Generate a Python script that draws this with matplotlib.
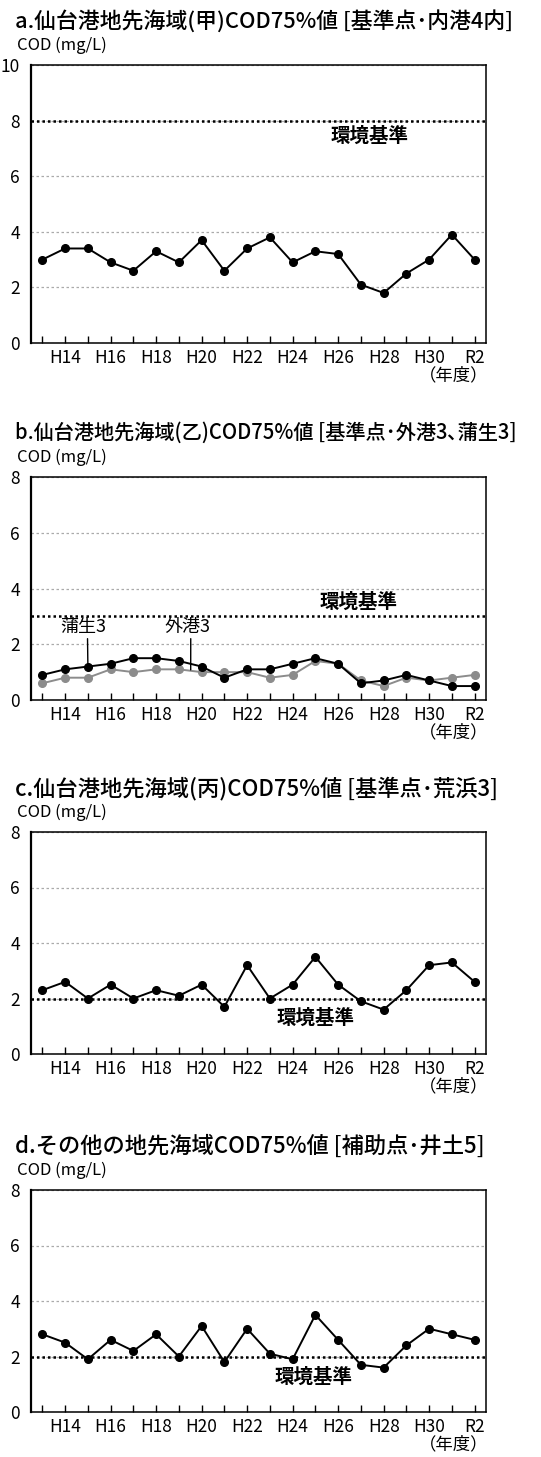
import matplotlib
matplotlib.use("Agg")
import matplotlib.pyplot as plt

plt.rcParams['font.family'] = ['Noto Sans CJK JP', 'DejaVu Sans']

# years H13 .. H31, R2
years = ['H13', 'H14', 'H15', 'H16', 'H17', 'H18', 'H19', 'H20', 'H21', 'H22',
         'H23', 'H24', 'H25', 'H26', 'H27', 'H28', 'H29', 'H30', 'H31', 'R2']
shown = ['H14', 'H16', 'H18', 'H20', 'H22', 'H24', 'H26', 'H28', 'H30', 'R2']

# a. 内港4内
naiko4 = [3.0, 3.4, 3.4, 2.9, 2.6, 3.3, 2.9, 3.7, 2.6, 3.4,
          3.8, 2.9, 3.3, 3.2, 2.1, 1.8, 2.5, 3.0, 3.9, 3.0]
# b. 蒲生3 (black), 外港3 (gray)
gamo3 = [0.9, 1.1, 1.2, 1.3, 1.5, 1.5, 1.4, 1.2, 0.8, 1.1,
         1.1, 1.3, 1.5, 1.3, 0.6, 0.7, 0.9, 0.7, 0.5, 0.5]
gaiko3 = [0.6, 0.8, 0.8, 1.1, 1.0, 1.1, 1.1, 1.0, 1.0, 1.0,
          0.8, 0.9, 1.4, 1.3, 0.7, 0.5, 0.8, 0.7, 0.8, 0.9]
# c. 荒浜3
arahama3 = [2.3, 2.6, 2.0, 2.5, 2.0, 2.3, 2.1, 2.5, 1.7, 3.2,
            2.0, 2.5, 3.5, 2.5, 1.9, 1.6, 2.3, 3.2, 3.3, 2.6]
# d. 井土5
ido5 = [2.8, 2.5, 1.9, 2.6, 2.2, 2.8, 2.0, 3.1, 1.8, 3.0,
        2.1, 1.9, 3.5, 2.6, 1.7, 1.6, 2.4, 3.0, 2.8, 2.6]

titles = ['a.仙台港地先海域(甲)COD75%値 [基準点･内港4内]',
          'b.仙台港地先海域(乙)COD75%値 [基準点･外港3､蒲生3]',
          'c.仙台港地先海域(丙)COD75%値 [基準点･荒浜3]',
          'd.その他の地先海域COD75%値 [補助点･井土5]']
title_widths = [498, 503, 503, 500]
ymaxs = [10, 8, 8, 8]
standards = [8, 3, 2, 2]
std_label_pos = [(14.4, 7.45), (13.9, 3.5), (12.0, 1.3), (11.9, 1.25)]

W, H = 541, 1457
fig = plt.figure(figsize=(W / 100, H / 100), dpi=100)

# axes boxes in pixels: (top, bottom)
boxes = [(65, 343), (477, 700), (832, 1054), (1190, 1412)]
left, right = 31, 486

x = list(range(len(years)))
series = [[(naiko4, 'black')],
          [(gaiko3, '#8c8c8c'), (gamo3, 'black')],
          [(arahama3, 'black')],
          [(ido5, 'black')]]

title_texts = []
for i in range(4):
    top, bot = boxes[i]
    ax = fig.add_axes([left / W, 1 - bot / H, (right - left) / W, (bot - top) / H])
    ax.set_xlim(-0.5, 19.5)
    ax.set_ylim(0, ymaxs[i])
    ax.set_yticks(range(0, ymaxs[i] + 1, 2))
    ax.set_xticks(x)
    ax.set_xticklabels([y if y in shown else '' for y in years])
    ax.tick_params(axis='x', direction='in', length=5, width=1, labelsize=12.5, pad=4)
    ax.tick_params(axis='y', length=0, labelsize=12.5, pad=8)
    for s in ax.spines.values():
        s.set_linewidth(1.1)
    ax.spines['left'].set_linewidth(1.6)
    ax.grid(axis='y', color='#aaaaaa', linestyle=(0, (2, 2)), linewidth=0.9)
    ax.axhline(standards[i], color='black', linestyle=(0, (1, 1.2)), linewidth=1.8, zorder=2)
    for vals, col in series[i]:
        ax.plot(x, vals, color=col, marker='o', markersize=5.5, linewidth=1.4, zorder=3)
    sx, sy = std_label_pos[i]
    ax.text(sx, sy, '環境基準', ha='center', va='center', fontsize=14, fontweight='bold')
    ax.annotate('（年度）', xy=(1.0, 0), xycoords='axes fraction', xytext=(2, -17),
                textcoords='offset points', ha='right', va='top', fontsize=12.5)
    t = fig.text(15 / W, 1 - (top - 44) / H, titles[i], ha='left', va='center',
                 fontsize=16, fontweight='medium')
    title_texts.append(t)
    fig.text(17 / W, 1 - (top - 20) / H, 'COD (mg/L)', ha='left', va='center', fontsize=12)
    if i == 1:
        ax.annotate('蒲生3', xy=(2, gamo3[2] + 0.05), xytext=(1.8, 2.3), ha='center', va='bottom',
                    fontsize=13, arrowprops=dict(arrowstyle='-', color='black', lw=1.0,
                                                 relpos=(0.59, 0.1), shrinkA=0, shrinkB=0))
        ax.annotate('外港3', xy=(6.52, (gaiko3[6] + gaiko3[7]) / 2 + 0.03), xytext=(6.36, 2.3),
                    ha='center', va='bottom', fontsize=13,
                    arrowprops=dict(arrowstyle='-', color='black', lw=1.0,
                                    relpos=(0.58, 0.1), shrinkA=0, shrinkB=0))

# shrink titles to fit the page width like the original
fig.canvas.draw()
renderer = fig.canvas.get_renderer()
for t, tw in zip(title_texts, title_widths):
    w = t.get_window_extent(renderer).width
    if w > tw:
        t.set_fontsize(16 * tw / w)

fig.savefig('out.png', dpi=100, facecolor='white')
